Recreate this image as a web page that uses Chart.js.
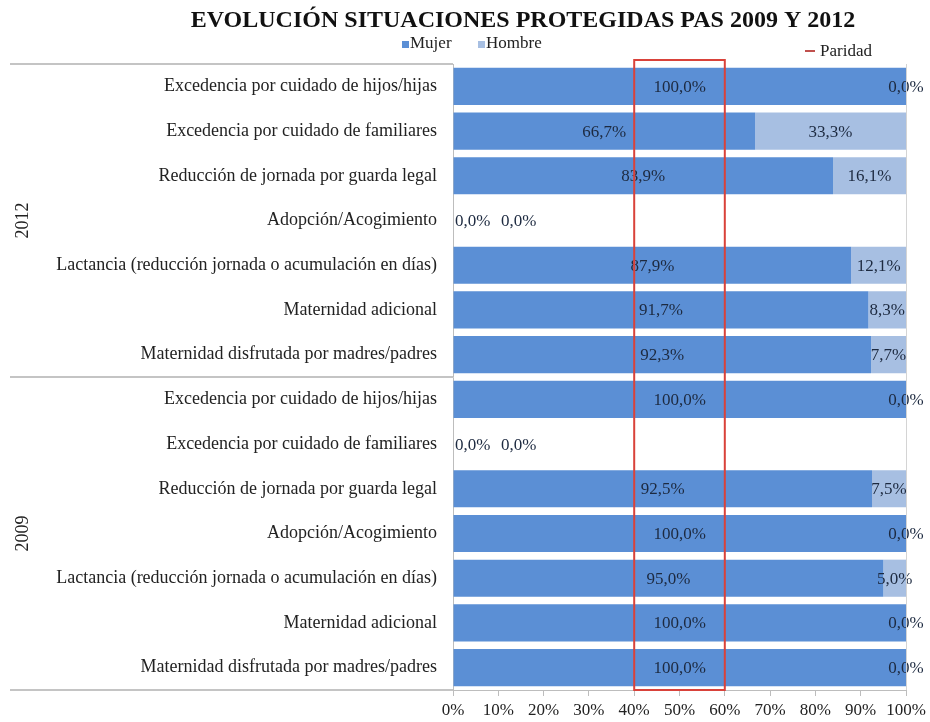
<!DOCTYPE html>
<html>
<head>
<meta charset="utf-8">
<script src="https://cdn.jsdelivr.net/npm/chart.js@4/dist/chart.umd.min.js"></script>
<style>
  html, body { margin:0; padding:0; background:#fff; }
  canvas { display:block; }
</style>
</head>
<body>
<canvas id="c" width="930" height="722"></canvas>
<script>
// Situaciones protegidas, % mujeres / hombres (filas de arriba a abajo)
const situaciones = [
  'Excedencia por cuidado de hijos/hijas',
  'Excedencia por cuidado de familiares',
  'Reducción de jornada por guarda legal',
  'Adopción/Acogimiento',
  'Lactancia (reducción jornada o acumulación en días)',
  'Maternidad adicional',
  'Maternidad disfrutada por madres/padres'
];
const anios = ['2012', '2009'];
const mujer2012  = [100, 66.7, 83.9, 0, 87.9, 91.7, 92.3];
const hombre2012 = [0, 33.3, 16.1, 0, 12.1, 8.3, 7.7];
const mujer2009  = [100, 0, 92.5, 100, 95.0, 100, 100];
const hombre2009 = [0, 0, 7.5, 0, 5.0, 0, 0];
const paridad = [40, 60];
const xTicks = [0, 10, 20, 30, 40, 50, 60, 70, 80, 90, 100];

const labels = [...situaciones, ...situaciones];
const mujer = [...mujer2012, ...mujer2009];
const hombre = [...hombre2012, ...hombre2009];

const SERIF = '"Liberation Serif", "DejaVu Serif", serif';
const C_MUJER = '#5b8fd5';
const C_HOMBRE = '#a7bfe2';
const fmtPct = v => v.toFixed(1).replace('.', ',') + '%';

// textos, separadores de grupo, caja de paridad y etiquetas de datos
const extras = {
  id: 'extras',
  afterDatasetsDraw(chart) {
    const { ctx, chartArea: a, scales: { x } } = chart;
    ctx.save();

    // etiquetas de datos
    ctx.font = '17px ' + SERIF;
    ctx.fillStyle = '#1d2a40';
    ctx.textBaseline = 'middle';
    const m0 = chart.getDatasetMeta(0).data, m1 = chart.getDatasetMeta(1).data;
    labels.forEach((_, i) => {
      const yy = m0[i].y + 1;
      if (mujer[i] + hombre[i] === 0) {
        ctx.textAlign = 'left';
        ctx.fillText(fmtPct(mujer[i]), a.left + 2, yy);
        ctx.fillText(fmtPct(hombre[i]), a.left + 48, yy);
        return;
      }
      ctx.textAlign = 'center';
      ctx.fillText(fmtPct(mujer[i]), (m0[i].x + m0[i].base) / 2, yy);
      ctx.fillText(fmtPct(hombre[i]), (m1[i].x + m1[i].base) / 2, yy);
    });

    // borde derecho del área
    ctx.strokeStyle = '#d4d4d4';
    ctx.lineWidth = 1;
    ctx.beginPath();
    ctx.moveTo(a.right + 0.5, a.top);
    ctx.lineTo(a.right + 0.5, a.bottom);
    ctx.stroke();

    // separadores de grupo
    ctx.strokeStyle = '#c4c4c4';
    ctx.lineWidth = 2;
    const step = (a.bottom - a.top) / labels.length;
    [0, situaciones.length, labels.length].forEach(k => {
      const yy = a.top + k * step;
      ctx.beginPath();
      ctx.moveTo(10, yy);
      ctx.lineTo(a.left, yy);
      ctx.stroke();
    });

    // años (rotados)
    ctx.fillStyle = '#222';
    ctx.font = '18px ' + SERIF;
    ctx.textAlign = 'center';
    anios.forEach((an, g) => {
      const yy = a.top + (g + 0.5) * situaciones.length * step;
      ctx.save();
      ctx.translate(23, yy);
      ctx.rotate(-Math.PI / 2);
      ctx.fillText(an, 0, 0);
      ctx.restore();
    });

    // paridad
    const x0 = x.getPixelForValue(paridad[0]), x1 = x.getPixelForValue(paridad[1]);
    ctx.strokeStyle = '#d9423a';
    ctx.lineWidth = 2;
    ctx.strokeRect(x0, a.top - 4, x1 - x0, a.bottom - a.top + 4);

    // título
    ctx.fillStyle = '#111';
    ctx.font = 'bold 24px ' + SERIF;
    ctx.textAlign = 'center';
    ctx.fillText('EVOLUCIÓN SITUACIONES PROTEGIDAS PAS 2009 Y 2012', 523, 21);

    // leyenda
    ctx.font = '17px ' + SERIF;
    ctx.textAlign = 'left';
    ctx.fillStyle = C_MUJER;
    ctx.fillRect(402, 41, 7, 7);
    ctx.fillStyle = '#222';
    ctx.fillText('Mujer', 410, 44);
    ctx.fillStyle = C_HOMBRE;
    ctx.fillRect(478, 41, 7, 7);
    ctx.fillStyle = '#222';
    ctx.fillText('Hombre', 486, 44);
    ctx.strokeStyle = '#c0504d';
    ctx.lineWidth = 2;
    ctx.beginPath();
    ctx.moveTo(805, 51);
    ctx.lineTo(815, 51);
    ctx.stroke();
    ctx.fillText('Paridad', 820, 52);

    ctx.restore();
  }
};

new Chart(document.getElementById('c'), {
  type: 'bar',
  data: {
    labels,
    datasets: [
      { label: 'Mujer', data: mujer, backgroundColor: C_MUJER },
      { label: 'Hombre', data: hombre, backgroundColor: C_HOMBRE }
    ]
  },
  options: {
    indexAxis: 'y',
    responsive: false,
    animation: false,
    events: [],
    layout: { padding: { top: 64, right: 24, left: 0, bottom: 0 } },
    plugins: { legend: { display: false }, title: { display: false }, tooltip: { enabled: false } },
    datasets: { bar: { barPercentage: 0.83, categoryPercentage: 1 } },
    scales: {
      x: {
        stacked: true, min: 0, max: 100,
        afterBuildTicks: s => { s.ticks = xTicks.map(v => ({ value: v })); },
        ticks: { callback: v => v + '%', color: '#222', font: { family: SERIF, size: 17 }, padding: 4, maxRotation: 0 },
        grid: { drawOnChartArea: false, drawTicks: true, tickLength: 6, color: '#bdbdbd' },
        border: { color: '#bdbdbd', width: 1 },
        afterFit: s => { s.height = 32; }
      },
      y: {
        stacked: true,
        ticks: { color: '#222', font: { family: SERIF, size: 18 }, padding: 8, autoSkip: false },
        grid: { display: false },
        border: { color: '#bdbdbd', width: 1 },
        afterFit: s => { s.width = 453; }
      }
    }
  },
  plugins: [extras]
});
</script>
</body>
</html>
